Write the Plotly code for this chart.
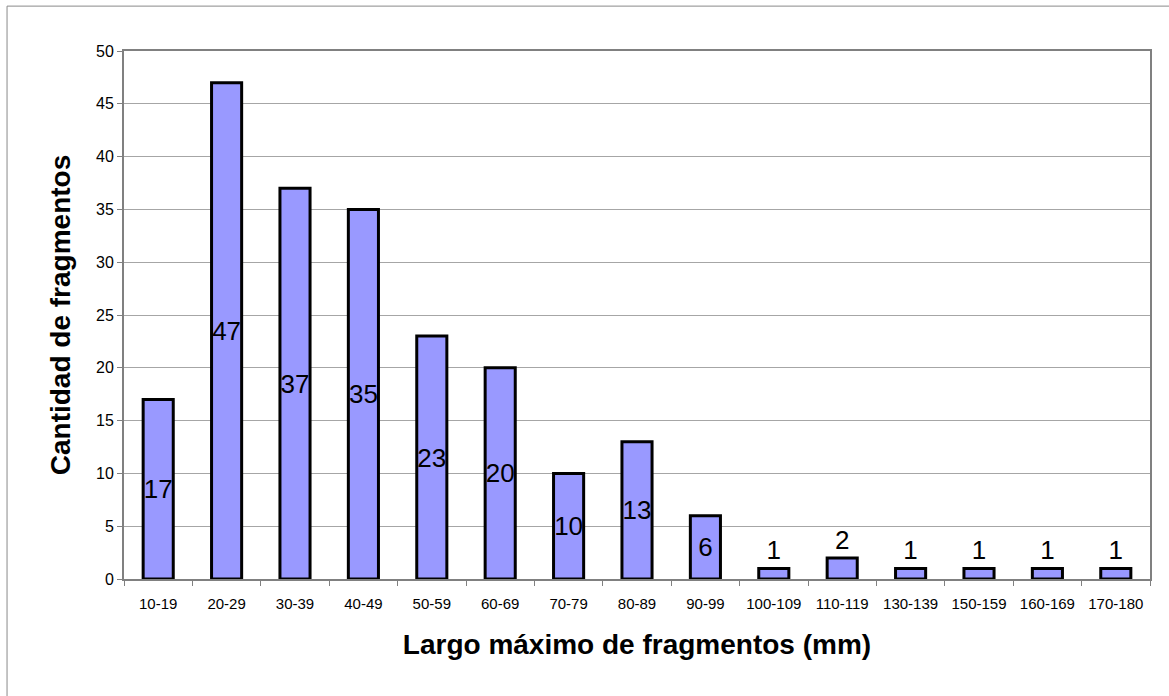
import plotly.graph_objects as go

# Histogram of maximum fragment length (mm)
categorias = ["10-19", "20-29", "30-39", "40-49", "50-59", "60-69", "70-79",
              "80-89", "90-99", "100-109", "110-119", "130-139", "150-159",
              "160-169", "170-180"]
cantidades = [17, 47, 37, 35, 23, 20, 10, 13, 6, 1, 2, 1, 1, 1, 1]

FONT = "Liberation Sans, Arial, sans-serif"

# small bars get their value above the bar, the rest centred inside it
posiciones = ["inside" if v >= 5 else "outside" for v in cantidades]

fig = go.Figure(
    go.Bar(
        x=categorias,
        y=cantidades,
        text=[str(v) for v in cantidades],
        textposition=posiciones,
        insidetextanchor="middle",
        constraintext="none",
        textangle=0,
        textfont=dict(family=FONT, size=26, color="black"),
        marker=dict(color="#9999FF", line=dict(color="black", width=3)),
        cliponaxis=False,
    )
)

fig.update_layout(
    width=1169,
    height=696,
    margin=dict(l=124, r=19, t=51, b=117),
    paper_bgcolor="white",
    plot_bgcolor="white",
    bargap=0.56,
    showlegend=False,
    font=dict(family=FONT, color="black"),
    shapes=[
        # outer chart frame
        dict(type="rect", xref="paper", yref="paper",
             x0=-0.114, x1=1.1, y0=-0.3, y1=1.085,
             line=dict(color="#8a8a8a", width=1), layer="below"),
    ],
)

fig.update_xaxes(
    type="category",
    showgrid=False,
    showline=True,
    linecolor="#808080",
    linewidth=2,
    mirror=True,
    ticks="outside",
    tickson="boundaries",
    ticklen=5,
    tickcolor="#808080",
    ticklabelstandoff=10,
    tickfont=dict(family=FONT, size=15, color="black"),
    title=dict(text="<b>Largo máximo de fragmentos (mm)</b>",
               font=dict(family=FONT, size=28, color="black"), standoff=23),
)

fig.update_yaxes(
    range=[0, 50],
    dtick=5,
    showgrid=True,
    gridcolor="#a6a6a6",
    gridwidth=1,
    showline=True,
    linecolor="#808080",
    linewidth=2,
    mirror=True,
    ticks="outside",
    ticklen=5,
    tickcolor="#808080",
    tickfont=dict(family=FONT, size=16, color="black"),
    zeroline=False,
    title=dict(text="<b>Cantidad de fragmentos</b>",
               font=dict(family=FONT, size=28, color="black"), standoff=17),
)

fig.write_html("out.html")
